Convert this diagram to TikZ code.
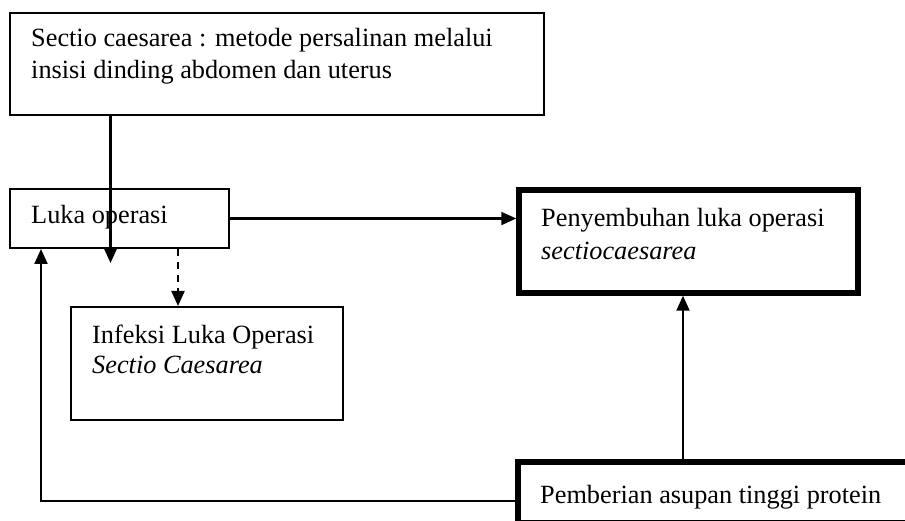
\documentclass[tikz,border=0pt]{standalone}
\usepackage{fontspec}
\setmainfont{Liberation Serif}
\usetikzlibrary{arrows.meta}
\begin{document}
\begin{tikzpicture}[x=1pt,y=-1pt,
  thinbox/.style={draw,line width=2pt,rectangle,inner sep=0pt},
  thickbox/.style={draw,line width=5.5pt,rectangle,inner sep=0pt},
  lbl/.style={anchor=base west,inner sep=0pt,font=\fontsize{26.3}{30}\selectfont},
  arr/.style={line width=2.2pt,-{Triangle[length=15pt,width=13pt]}}]
\useasboundingbox (0,0) rectangle (905,521);
\clip (0,0) rectangle (905,521);
\fill[white] (0,0) rectangle (905,521);
% boxes
\node[thinbox,minimum width=534pt,minimum height=102pt] (top) at (277,64) {};
\node[thinbox,minimum width=219.5pt,minimum height=59pt] (luka) at (119.25,218.5) {};
\node[thinbox,minimum width=272pt,minimum height=113pt] (inf) at (207,363.5) {};
\node[thickbox,minimum width=339pt,minimum height=103pt] (peny) at (688.5,241.5) {};
\node[thickbox,minimum width=422pt,minimum height=61pt] (pemb) at (729,492.5) {};
% texts
\node[lbl] (t1) at (31,47) {Sectio caesarea : metode persalinan melalui};
\node[lbl] (t2) at (31,79) {insisi dinding abdomen dan uterus};
\node[lbl] (t3) at (31,224) {Luka operasi};
\node[lbl] (t4) at (92,343) {Infeksi Luka Operasi};
\node[lbl] (t5) at (92,373) {\itshape Sectio Caesarea};
\node[lbl] (t6) at (541,227) {Penyembuhan luka operasi};
\node[lbl] (t7) at (541,260) {\itshape sectiocaesarea};
\node[lbl] (t8) at (540,503) {Pemberian asupan tinggi protein};
% connectors
\coordinate (a1) at (110.5,263);
\draw[arr] (top.south -| a1) -- (a1);
\coordinate (d1) at (178,0);
\draw[arr,dash pattern=on 7pt off 6pt] (luka.south -| d1) -- (inf.north -| d1);
\draw[arr] (luka.east) -- (luka.east -| peny.west);
\coordinate (u1) at (683,0);
\draw[arr] (pemb.north -| u1) -- (peny.south -| u1);
\coordinate (l1) at (41,500.7);
\draw[arr] (pemb.west |- l1) -- (l1) -- (luka.south -| l1);
\end{tikzpicture}
\end{document}
